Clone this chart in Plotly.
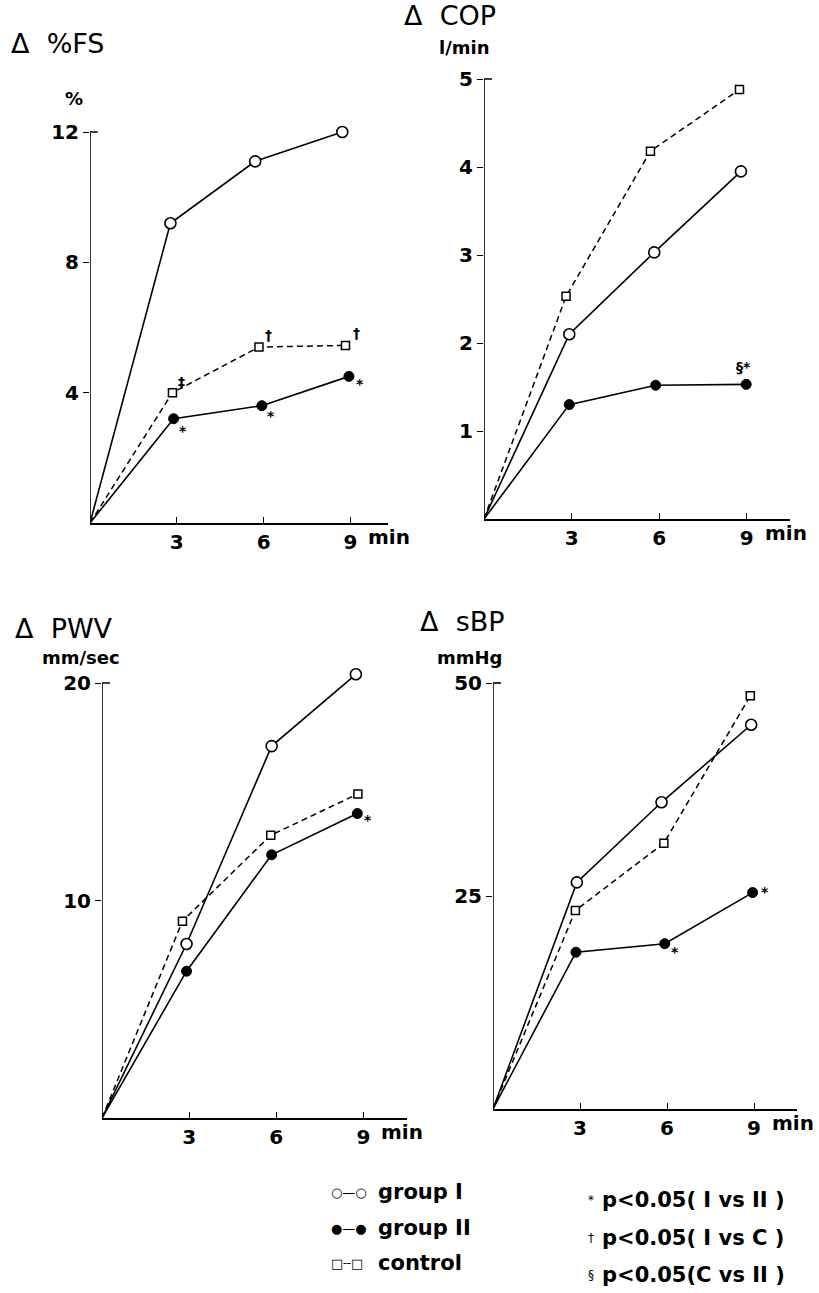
import plotly.graph_objects as go

W, H = 819, 1293

# ---- data: change from baseline at 3, 6 and 9 min of exercise ----
TICKS_X = [3, 6, 9]

# Δ %FS (%)
FS_T_I, FS_I = [2.78, 5.71, 8.72], [9.2, 11.1, 12.0]
FS_T_II, FS_II = [2.89, 5.94, 8.95], [3.2, 3.6, 4.5]
FS_T_C, FS_C = [2.85, 5.84, 8.83], [4.0, 5.4, 5.45]
FS_TICKS = [4, 8, 12]

# Δ COP (l/min)
COP_T_I, COP_I = [2.92, 5.83, 8.80], [2.1, 3.03, 3.95]
COP_T_II, COP_II = [2.92, 5.88, 8.98], [1.3, 1.52, 1.53]
COP_T_C, COP_C = [2.81, 5.70, 8.75], [2.53, 4.18, 4.88]
COP_TICKS = [1, 2, 3, 4, 5]

# Δ PWV (mm/sec)
PWV_T_I, PWV_I = [2.91, 5.84, 8.74], [8.0, 17.1, 20.4]
PWV_T_II, PWV_II = [2.91, 5.84, 8.79], [6.75, 12.1, 14.0]
PWV_T_C, PWV_C = [2.77, 5.81, 8.81], [9.05, 13.0, 14.9]
PWV_TICKS = [10, 20]

# Δ sBP (mmHg)
SBP_T_I, SBP_I = [2.89, 5.81, 8.90], [26.6, 36.0, 45.1]
SBP_T_II, SBP_II = [2.86, 5.92, 8.95], [18.4, 19.4, 25.4]
SBP_T_C, SBP_C = [2.84, 5.89, 8.87], [23.3, 31.2, 48.5]
SBP_TICKS = [25, 50]

FONT = "DejaVu Sans"
BLACK = "#000000"
HEAD = 0.08  # headroom above the top tick so points above it stay visible


def px(xp):
    return xp / W


def py(yp):
    return 1 - yp / H


# panel frames in pixels: origin x, axis end x, top tick y, origin y
PANELS = [
    dict(x0=90, x1=388, ytop=132, ybot=523, xmax=10.3, ymax=12, ticks=FS_TICKS,
         series=[(FS_T_I, FS_I), (FS_T_II, FS_II), (FS_T_C, FS_C)]),
    dict(x0=484, x1=790, ytop=79, ybot=519, xmax=10.48, ymax=5, ticks=COP_TICKS,
         series=[(COP_T_I, COP_I), (COP_T_II, COP_II), (COP_T_C, COP_C)]),
    dict(x0=102, x1=407, ytop=683, ybot=1118, xmax=10.5, ymax=20, ticks=PWV_TICKS,
         series=[(PWV_T_I, PWV_I), (PWV_T_II, PWV_II), (PWV_T_C, PWV_C)]),
    dict(x0=493, x1=797, ytop=683, ybot=1109, xmax=10.48, ymax=50, ticks=SBP_TICKS,
         series=[(SBP_T_I, SBP_I), (SBP_T_II, SBP_II), (SBP_T_C, SBP_C)]),
]

STYLES = [
    dict(line=dict(color=BLACK, width=1.6),
         marker=dict(symbol="circle", size=11, color="white", line=dict(color=BLACK, width=1.6))),
    dict(line=dict(color=BLACK, width=1.6),
         marker=dict(symbol="circle", size=10, color=BLACK, line=dict(color=BLACK, width=1))),
    dict(line=dict(color=BLACK, width=1.5, dash="6px,4px"),
         marker=dict(symbol="square", size=8, color="white", line=dict(color=BLACK, width=1.5))),
]

fig = go.Figure()
layout = dict(width=W, height=H, margin=dict(l=0, r=0, t=0, b=0),
              paper_bgcolor="white", plot_bgcolor="white", showlegend=False)
shapes, annotations = [], []
TICK_FONT = dict(family=FONT, size=20, color=BLACK, weight="bold")

for i, p in enumerate(PANELS, start=1):
    xa = "x" if i == 1 else f"x{i}"
    ya = "y" if i == 1 else f"y{i}"
    for (t, v), st in zip(p["series"], STYLES):
        fig.add_trace(go.Scatter(x=[0] + t, y=[0] + v, mode="lines", line=st["line"],
                                 xaxis=xa, yaxis=ya, cliponaxis=False, hoverinfo="skip"))
        fig.add_trace(go.Scatter(x=t, y=v, mode="markers", marker=st["marker"],
                                 xaxis=xa, yaxis=ya, cliponaxis=False, hoverinfo="skip"))
    key = "" if i == 1 else str(i)
    top_px = p["ytop"] - (p["ybot"] - p["ytop"]) * HEAD
    layout[f"xaxis{key}"] = dict(
        domain=[px(p["x0"]), px(p["x1"])], range=[0, p["xmax"]], anchor=ya,
        showline=True, linecolor=BLACK, linewidth=1.6, showgrid=False, zeroline=False,
        tickvals=TICKS_X, ticks="inside", ticklen=6, tickwidth=1.4, tickcolor=BLACK,
        tickfont=TICK_FONT, fixedrange=True)
    layout[f"yaxis{key}"] = dict(
        domain=[py(p["ybot"]), py(top_px)], range=[0, p["ymax"] * (1 + HEAD)], anchor=xa,
        showline=False, showgrid=False, zeroline=False,
        tickvals=p["ticks"], ticks="outside", ticklen=6, tickwidth=1.4, tickcolor=BLACK,
        tickfont=TICK_FONT, fixedrange=True)
    # y axis line stops at the top tick, with a small hook to the right
    shapes.append(dict(type="line", xref=xa, yref=ya, x0=0, x1=0,
                       y0=0, y1=p["ymax"], line=dict(color=BLACK, width=1.6)))
    shapes.append(dict(type="line", xref=xa, yref=ya, x0=0, x1=0.27 * p["xmax"] / 10.3,
                       y0=p["ymax"], y1=p["ymax"], line=dict(color=BLACK, width=1.6)))
    # "min" after the last time tick
    annotations.append(dict(xref=xa, yref=ya, x=9, y=0, xanchor="left", yanchor="middle",
                            xshift=16, yshift=-14, showarrow=False, text="min",
                            font=TICK_FONT))

# panel titles and units
TITLE_FONT = dict(family=FONT, size=27, color=BLACK)
UNIT_FONT = dict(family=FONT, size=18, color=BLACK, weight="bold")
for text, xp, yp in [("Δ  %FS", 9, 43), ("Δ  COP", 402, 16),
                     ("Δ  PWV", 13, 628), ("Δ  sBP", 418, 621)]:
    annotations.append(dict(xref="paper", yref="paper", x=px(xp), y=py(yp),
                            xanchor="left", yanchor="middle", showarrow=False,
                            text=text, font=TITLE_FONT))
for text, xp, yp in [("%", 63, 99), ("l/min", 437, 47),
                     ("mm/sec", 40, 657), ("mmHg", 435, 657)]:
    annotations.append(dict(xref="paper", yref="paper", x=px(xp), y=py(yp),
                            xanchor="left", yanchor="middle", showarrow=False,
                            text=text, font=UNIT_FONT))

# significance marks beside the points
SIG_FONT = dict(family=FONT, size=14, color=BLACK, weight="bold")
marks = [
    ("x", "y", FS_T_C[0], FS_C[0], "‡", 9, 11),
    ("x", "y", FS_T_C[1], FS_C[1], "†", 10, 12),
    ("x", "y", FS_T_C[2], FS_C[2], "†", 11, 12),
    ("x", "y", FS_T_II[0], FS_II[0], "*", 9, -12),
    ("x", "y", FS_T_II[1], FS_II[1], "*", 9, -10),
    ("x", "y", FS_T_II[2], FS_II[2], "*", 11, -8),
    ("x2", "y2", COP_T_II[2], COP_II[2], "§*", -3, 17),
    ("x3", "y3", PWV_T_II[2], PWV_II[2], "*", 11, -6),
    ("x4", "y4", SBP_T_II[1], SBP_II[1], "*", 10, -8),
    ("x4", "y4", SBP_T_II[2], SBP_II[2], "*", 12, 1),
]
for xa, ya, x, y, text, dx, dy in marks:
    annotations.append(dict(xref=xa, yref=ya, x=x, y=y, xshift=dx, yshift=dy,
                            xanchor="center", yanchor="middle", showarrow=False,
                            text=text, font=SIG_FONT))

# key
KEY_FONT = dict(family=FONT, size=21, color=BLACK, weight="bold")
GLYPH_FONT = dict(family=FONT, size=13, color=BLACK)
for glyph, label, yp in [("○—○", "group I", 1192), ("●—●", "group II", 1228),
                         ("□╌□", "control", 1263)]:
    annotations.append(dict(xref="paper", yref="paper", x=px(329), y=py(yp),
                            xanchor="left", yanchor="middle", showarrow=False,
                            text=glyph, font=GLYPH_FONT))
    annotations.append(dict(xref="paper", yref="paper", x=px(376), y=py(yp),
                            xanchor="left", yanchor="middle", showarrow=False,
                            text=label, font=KEY_FONT))
for sym, label, yp in [("*", "p&lt;0.05( I vs II )", 1200),
                       ("†", "p&lt;0.05( I vs C )", 1238),
                       ("§", "p&lt;0.05(C vs II )", 1275)]:
    annotations.append(dict(xref="paper", yref="paper", x=px(586), y=py(yp),
                            xanchor="left", yanchor="middle", showarrow=False,
                            text=sym, font=dict(family=FONT, size=12, color=BLACK)))
    annotations.append(dict(xref="paper", yref="paper", x=px(600), y=py(yp),
                            xanchor="left", yanchor="middle", showarrow=False,
                            text=label, font=KEY_FONT))

layout["shapes"] = shapes
layout["annotations"] = annotations
fig.update_layout(**layout)
fig.write_html("out.html")
